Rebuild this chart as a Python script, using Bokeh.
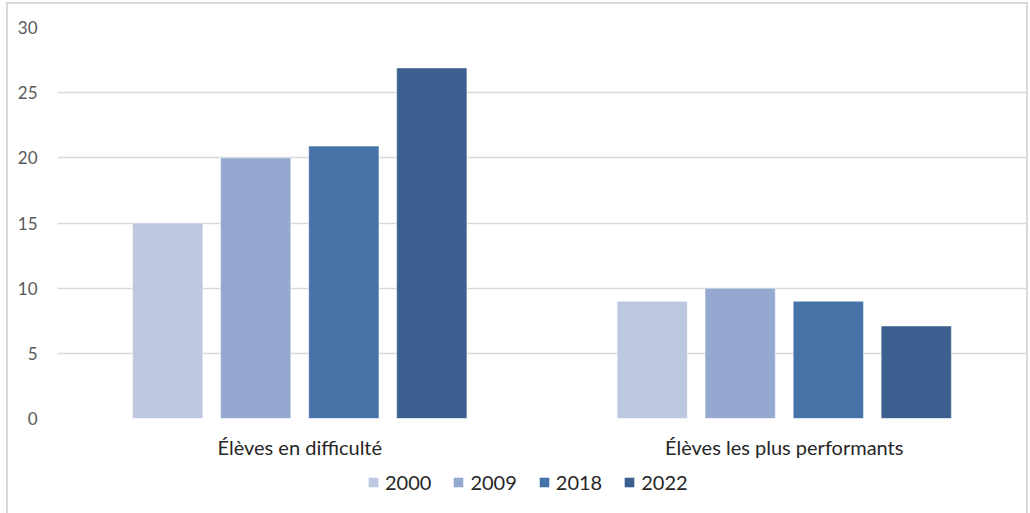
from bokeh.plotting import figure
from bokeh.layouts import column
from bokeh.models import ColumnDataSource, FactorRange, Range1d, Legend, LegendItem
from bokeh.transform import dodge
from bokeh.embed import file_html
from bokeh.resources import INLINE

categories = ["Élèves en difficulté", "Élèves les plus performants"]
years = ["2000", "2009", "2018", "2022"]
v2000 = [15, 9]
v2009 = [20, 10]
v2018 = [20.9, 9]
v2022 = [26.9, 7.1]
colors = ["#BCC8E0", "#95A9D0", "#4572A7", "#3B5F8E"]
y_ticks = [0, 5, 10, 15, 20, 25, 30]

source = ColumnDataSource(dict(cat=categories, v2000=v2000, v2009=v2009, v2018=v2018, v2022=v2022))

p = figure(x_range=FactorRange(*categories), y_range=Range1d(0, 30),
           width=1018, height=460, output_backend="svg", toolbar_location=None,
           min_border_left=49, min_border_right=0, min_border_top=23, min_border_bottom=46)
p.frame_height = 391
p.outline_line_color = None

offsets = [-0.2725, -0.091, 0.091, 0.2725]
keys = ["v2000", "v2009", "v2018", "v2022"]
for k, off, c in zip(keys, offsets, colors):
    p.vbar(x=dodge("cat", off, range=p.x_range), top=k, width=0.145, source=source,
           fill_color=c, line_color="white", line_alpha=0.5, line_width=1)

p.yaxis.ticker = y_ticks
p.yaxis.axis_line_color = None
p.yaxis.major_tick_line_color = None
p.yaxis.minor_tick_line_color = None
p.yaxis.major_label_text_font = "Lato"
p.yaxis.major_label_text_font_size = "17px"
p.yaxis.major_label_text_color = "#595959"
p.yaxis.major_label_standoff = 14

p.xaxis.axis_line_color = None
p.xaxis.major_tick_line_color = None
p.xaxis.major_label_text_font = "Lato"
p.xaxis.major_label_text_font_size = "20px"
p.xaxis.major_label_text_color = "#262626"
p.xaxis.major_label_standoff = 10

p.xgrid.grid_line_color = None
p.ygrid.grid_line_color = "#d9d9d9"
p.ygrid.grid_line_width = 1.5

# legend strip below the chart (swatch renderers have zero size)
p2 = figure(width=1018, height=49, x_range=Range1d(0, 1), y_range=Range1d(0, 1),
            x_axis_type=None, y_axis_type=None, output_backend="svg", toolbar_location=None,
            min_border=0)
p2.outline_line_color = None
p2.grid.grid_line_color = None
p2.border_fill_color = "white"
leg_renderers = []
for c in colors:
    leg_renderers.append(p2.vbar(x=[0.5], top=[0], bottom=[0], width=0, fill_color=c,
                                 line_color=c, line_alpha=0))
legend = Legend(items=[LegendItem(label=y, renderers=[r], index=0) for y, r in zip(years, leg_renderers)],
                orientation="horizontal", location=(310, 19),
                glyph_width=12, glyph_height=12, label_standoff=6, spacing=21,
                padding=0, margin=0, border_line_color=None, background_fill_alpha=0,
                label_text_font="Lato", label_text_font_size="20px", label_text_color="#262626")
p2.add_layout(legend, "center")

layout = column(p, p2, spacing=0)
layout.styles = {"margin-left": "8px", "margin-top": "4px", "outline": "2px solid #d9d9d9"}

open("out.html", "w").write(file_html(layout, INLINE))
